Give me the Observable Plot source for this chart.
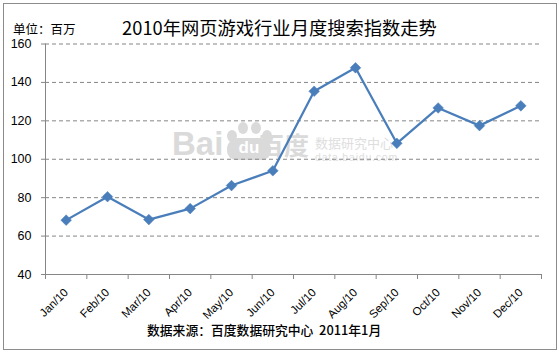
<!DOCTYPE html>
<html><head><meta charset="utf-8">
<script src="https://cdn.jsdelivr.net/npm/d3@7"></script>
<script src="https://cdn.jsdelivr.net/npm/@observablehq/plot@0.6"></script>
<style>
body{margin:0;background:#fff;}
#wrap{position:relative;width:559px;height:354px;overflow:hidden;font-family:"Liberation Sans","Noto Sans CJK SC",sans-serif;color:#000;}
#frame{position:absolute;left:3px;top:3px;width:554px;height:347px;border:1px solid #8c8c8c;box-sizing:border-box;pointer-events:none;}
#head{position:relative;height:36px;}
#title{position:absolute;left:0;top:18px;width:559px;text-align:center;font-family:"Noto Sans CJK SC",sans-serif;font-size:18.3px;line-height:19px;}
#unit{position:absolute;left:13px;top:22px;font-family:"Noto Sans CJK SC",sans-serif;font-size:12.5px;line-height:14px;}
#chart{position:relative;height:288px;z-index:1;}
#chart svg{background:transparent;}
#cap{position:relative;height:30px;}
#cap span{position:absolute;left:147px;top:-1px;font-family:"Noto Sans CJK SC",sans-serif;font-size:12.8px;line-height:14px;font-weight:500;white-space:pre;}
#wm{position:absolute;left:0;top:0;width:559px;height:354px;z-index:0;color:#dadada;font-family:"Liberation Sans","Noto Sans CJK SC",sans-serif;}
#wm .bai{position:absolute;left:172px;top:126px;font-size:33px;font-weight:bold;line-height:36px;}
#wm .toe{position:absolute;width:10px;height:12px;border-radius:50%;background:#dadada;}
#wm .pad{position:absolute;left:227px;top:138px;width:44px;height:22px;border-radius:11px 11px 9px 9px;background:#dadada;color:#fff;font-size:17px;font-weight:bold;line-height:20px;text-align:center;}
#wm .bd{position:absolute;left:259px;top:130px;font-family:"Noto Sans CJK SC";font-size:25px;font-weight:bold;line-height:28px;}
#wm .cn{position:absolute;left:315px;top:136px;font-family:"Noto Sans CJK SC";font-size:13px;line-height:13px;color:#dedede;}
#wm .en{position:absolute;left:315px;top:152px;font-size:10.5px;line-height:10px;letter-spacing:0.8px;color:#dedede;}
</style></head>
<body>
<div id="wrap">
  <div id="wm">
    <span class="bai">Bai</span>
    <div class="toe" style="left:227px;top:130px"></div>
    <div class="toe" style="left:238px;top:122px"></div>
    <div class="toe" style="left:251px;top:122px"></div>
    <div class="toe" style="left:262px;top:130px"></div>
    <div class="pad">du</div>
    <span class="bd">百度</span><span class="cn">数据研究中心</span><span class="en">data.baidu.com</span>
  </div>
  <div id="head"><div id="unit">单位：百万</div><div id="title">2010年网页游戏行业月度搜索指数走势</div></div>
  <div id="chart"></div>
  <div id="cap"><span>数据来源：百度数据研究中心  2011年1月</span></div>
  <div id="frame"></div>
</div>
<script>
const months = ["Jan/10","Feb/10","Mar/10","Apr/10","May/10","Jun/10","Jul/10","Aug/10","Sep/10","Oct/10","Nov/10","Dec/10"];
const values = [68.3, 80.5, 68.6, 74.3, 86.3, 94.0, 135.4, 147.6, 108.3, 126.7, 117.5, 127.8];
const yTicks = [40, 60, 80, 100, 120, 140, 160];
const yDomain = [40, 160];

const data = months.map((m, i) => ({i, m, v: values[i]}));
const xDomain = [-0.5, months.length - 0.5];
const bounds = d3.range(months.length + 1).map(k => k - 0.5);

const plot = Plot.plot({
  width: 559,
  height: 288,
  marginTop: 7.5,
  marginBottom: 50,
  marginLeft: 45,
  marginRight: 18,
  style: {fontFamily: '"Liberation Sans", sans-serif', background: "transparent"},
  x: {type: "linear", domain: xDomain},
  y: {domain: yDomain},
  marks: [
    Plot.gridY(yTicks.filter(t => t > yDomain[0]), {stroke: "#868686", strokeOpacity: 1, strokeDasharray: "4,3", strokeWidth: 1}),
    Plot.ruleY([yDomain[0]], {stroke: "#868686"}),
    Plot.ruleX([xDomain[0]], {stroke: "#868686"}),
    Plot.axisY({ticks: yTicks, tickSize: 4, tickPadding: 10, stroke: "#868686", fontSize: 12.5, label: null, color: "#000"}),
    Plot.axisX({ticks: bounds, tickSize: 5, tickFormat: () => "", stroke: "#868686", label: null}),
    Plot.axisX({ticks: d3.range(months.length), tickSize: 0, tickPadding: 16, tickRotate: -45, tickFormat: i => months[i], fontSize: 11.5, label: null}),
    Plot.line(data, {x: "i", y: "v", stroke: "#4A7EBB", strokeWidth: 2.25}),
    Plot.dot(data, {x: "i", y: "v", symbol: "diamond2", r: 4.8, fill: "#4A7EBB", stroke: "#4A7EBB", strokeWidth: 0.5})
  ]
});
document.getElementById("chart").appendChild(plot);
</script>
</body></html>
